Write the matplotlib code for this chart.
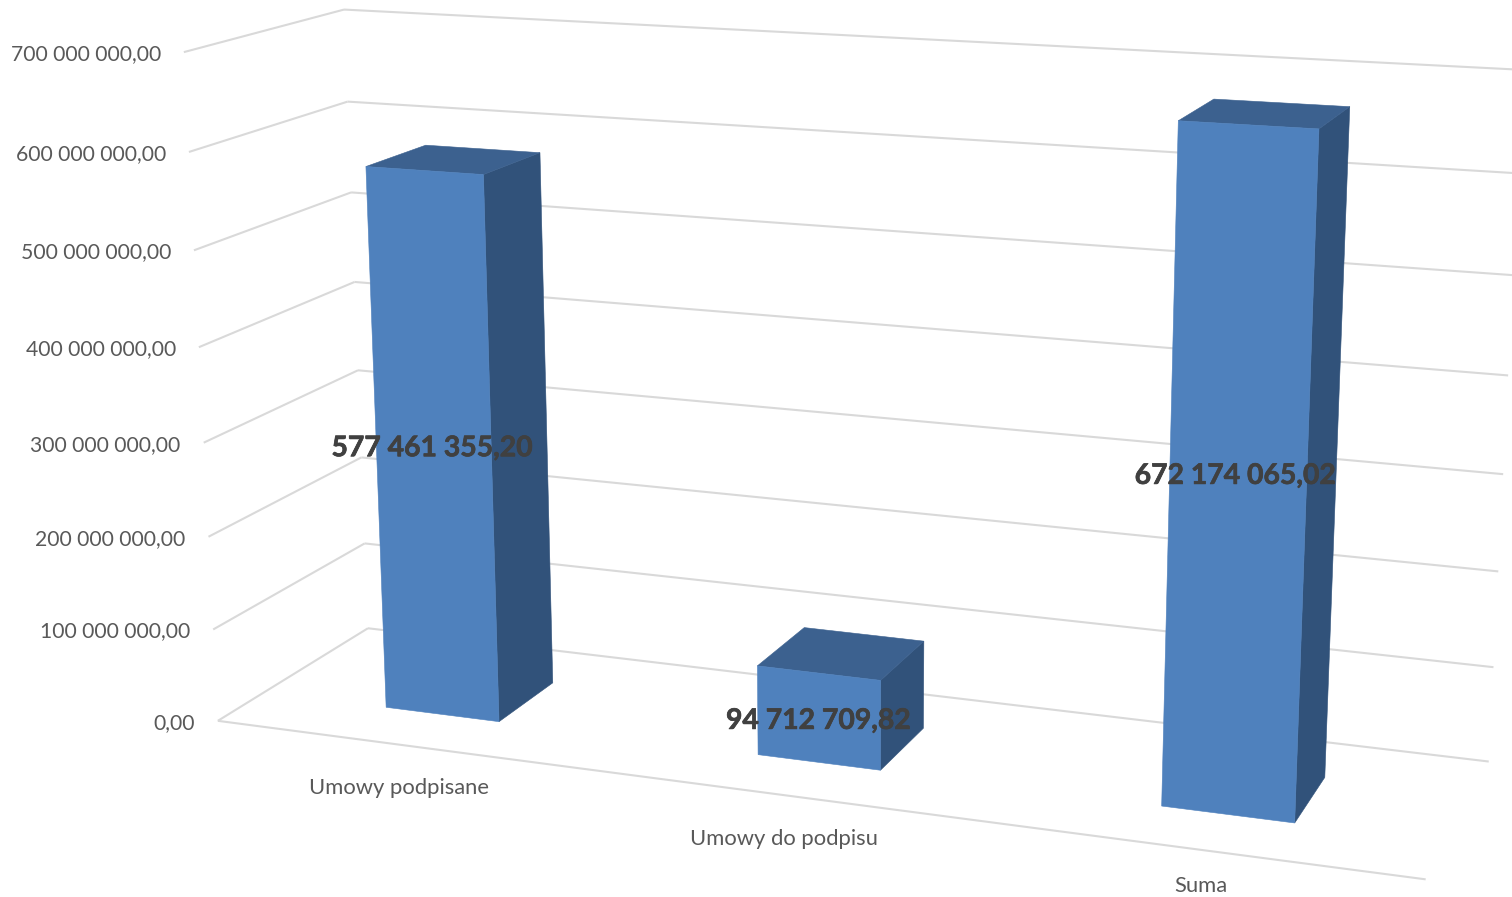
import matplotlib

matplotlib.use("Agg")
import matplotlib.patheffects as pe
import matplotlib.pyplot as plt
import numpy as np
from matplotlib.patches import Polygon

categories = ["Umowy podpisane", "Umowy do podpisu", "Suma"]
values = [577461355.20, 94712709.82, 672174065.02]
value_labels = ["577 461 355,20", "94 712 709,82", "672 174 065,02"]
tick_values = [0, 100000000, 200000000, 300000000, 400000000, 500000000, 600000000, 700000000]
tick_labels = ["0,00", "100 000 000,00", "200 000 000,00", "300 000 000,00",
               "400 000 000,00", "500 000 000,00", "600 000 000,00", "700 000 000,00"]

# where the category names sit in the picture
category_label_xy = [(399, 788), (784, 839), (1201, 886)]
# small nudges of the value labels off the front face centre
value_label_nudge = [(-1, 0), (0, 3), (-2, -3)]

BAR_WIDTH = 0.104
DEPTH_FRONT = 0.296
DEPTH_BACK = 0.695
UNIT = 1e8

FRONT = "#4F81BD"
SIDE = "#31527A"
TOP = "#3C618F"
GRID = "#D9D9D9"
TEXT = "#595959"
LABEL = "#404040"

# camera calibration: (along axis, depth, value/UNIT) -> pixel on the wall corners
calibration = [
    (0, 0, 0, 218, 721), (0, 1, 0, 368, 628), (0, 0, 7, 184, 51), (0, 1, 7, 344, 10),
    (1, 0, 0, 1425, 880), (1, 1, 0, 1488, 762), (1, 1, 7, 1523, 71),
    (0, 1, 6, 347, 102), (1, 1, 3, 1505, 472), (0, 0, 3, 204, 443),
]


def fit_camera(points):
    rows = []
    for u, d, w, px, py in points:
        rows.append([u, d, w, 1, 0, 0, 0, 0, -px * u, -px * d, -px * w, -px])
        rows.append([0, 0, 0, 0, u, d, w, 1, -py * u, -py * d, -py * w, -py])
    _, _, vt = np.linalg.svd(np.array(rows, float))
    return vt[-1].reshape(3, 4)


camera = fit_camera(calibration)


def project(u, d, value):
    p = camera @ np.array([u, d, value / UNIT, 1.0])
    return p[:2] / p[2]


def draw_line(ax, start, end, zorder=1):
    xs, ys = zip(project(*start), project(*end))
    ax.plot(xs, ys, color=GRID, linewidth=1.5, solid_capstyle="butt", zorder=zorder)


def draw_face(ax, corners, color, zorder):
    ax.add_patch(Polygon([project(*c) for c in corners], closed=True, facecolor=color,
                         edgecolor=color, linewidth=0.4, zorder=zorder))


def draw_bar(ax, center, value, zorder):
    u0 = center - BAR_WIDTH / 2
    u1 = center + BAR_WIDTH / 2
    d0, d1 = DEPTH_FRONT, DEPTH_BACK
    draw_face(ax, [(u1, d0, 0), (u1, d1, 0), (u1, d1, value), (u1, d0, value)], SIDE, zorder)
    draw_face(ax, [(u0, d0, value), (u1, d0, value), (u1, d1, value), (u0, d1, value)], TOP, zorder)
    draw_face(ax, [(u0, d0, 0), (u1, d0, 0), (u1, d0, value), (u0, d0, value)], FRONT, zorder + 0.1)


def main():
    plt.rcParams["font.family"] = ["Lato", "DejaVu Sans"]
    fig = plt.figure(figsize=(15.12, 8.97), dpi=100)
    ax = fig.add_axes([0, 0, 1, 1])
    ax.set_xlim(0, 1512)
    ax.set_ylim(897, 0)
    ax.axis("off")

    for tick, label in zip(tick_values, tick_labels):
        draw_line(ax, (0, 0, tick), (0, 1, tick))
        draw_line(ax, (0, 1, tick), (1, 1, tick))
        x, y = project(0, 0, tick)
        ax.text(x - 23, y + 2, label, ha="right", va="center", fontsize=15.2, color=TEXT)
    draw_line(ax, (0, 0, 0), (1, 0, 0))

    centers = [(i + 0.5) / len(categories) for i in range(len(categories))]
    for i, (center, value) in enumerate(zip(centers, values)):
        draw_bar(ax, center, value, 3 + i)

    for center, value, label, (dx, dy) in zip(centers, values, value_labels, value_label_nudge):
        x, y = project(center, DEPTH_FRONT, value / 2)
        ax.text(x + dx, y + dy, label, ha="center", va="center", fontsize=20.4, fontweight="bold",
                color=LABEL, zorder=10,
                path_effects=[pe.withStroke(linewidth=0.5, foreground=LABEL)])

    for name, (x, y) in zip(categories, category_label_xy):
        ax.text(x, y, name, ha="center", va="center", fontsize=15.8, color=TEXT)

    fig.savefig("out.png", dpi=100)
    plt.close(fig)


if __name__ == "__main__":
    main()
